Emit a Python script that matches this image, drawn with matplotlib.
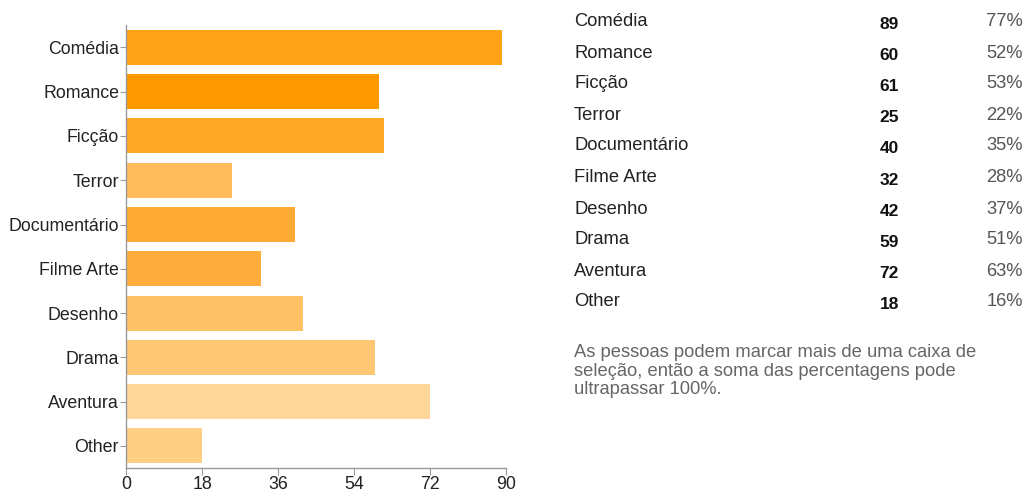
import matplotlib
matplotlib.use("Agg")
import matplotlib.pyplot as plt

plt.rcParams["font.family"] = ["Liberation Sans", "DejaVu Sans"]

categories = ["Comédia", "Romance", "Ficção", "Terror", "Documentário",
              "Filme Arte", "Desenho", "Drama", "Aventura", "Other"]
counts = [89, 60, 61, 25, 40, 32, 42, 59, 72, 18]
percents = ["77%", "52%", "53%", "22%", "35%", "28%", "37%", "51%", "63%", "16%"]
bar_colors = ["#ffa316", "#ff9900", "#ffa726", "#ffbb5c", "#ffaa33",
              "#ffad3d", "#ffc166", "#ffc673", "#ffd699", "#ffcf85"]
x_ticks = [0, 18, 36, 54, 72, 90]
note = ("As pessoas podem marcar mais de uma caixa de\n"
        "seleção, então a soma das percentagens pode\n"
        "ultrapassar 100%.")

fig = plt.figure(figsize=(10.27, 4.93), dpi=100)
ax = fig.add_axes([0.1227, 0.0507, 0.370, 0.898])

ypos = list(range(len(categories)))
ax.barh(ypos, counts, height=0.79, color=bar_colors, edgecolor="none")
ax.set_ylim(len(categories) - 0.5, -0.5)
ax.set_xlim(0, 90)
ax.set_yticks(ypos)
ax.set_yticklabels(categories, fontsize=12.8, color="#222222")
ax.set_xticks(x_ticks)
ax.set_xticklabels([str(t) for t in x_ticks], fontsize=12.8, color="#222222")
for side in ["top", "right"]:
    ax.spines[side].set_visible(False)
for side in ["left", "bottom"]:
    ax.spines[side].set_color("#999999")
    ax.spines[side].set_linewidth(1.0)
ax.tick_params(axis="y", length=4, color="#999999", pad=1)
ax.tick_params(axis="x", length=5, color="#999999", pad=1)

# summary table on the right
row_y = [22, 53, 84, 115, 146, 178, 209, 240, 271, 302]
for i, name in enumerate(categories):
    y = 1 - row_y[i] / 493
    fig.text(574 / 1027, y, name, fontsize=13.2, color="#222222", va="center", ha="left")
    fig.text(899 / 1027, y - 0.006, str(counts[i]), fontsize=12.5, fontweight="bold",
             color="#111111", va="center", ha="right")
    fig.text(1023 / 1027, y, percents[i], fontsize=13.2, color="#555555", va="center", ha="right")

fig.text(574 / 1027, 1 - 344 / 493, note, fontsize=13.2, color="#666666",
         va="top", ha="left", linespacing=1.13)

fig.savefig("out.png", dpi=100)
